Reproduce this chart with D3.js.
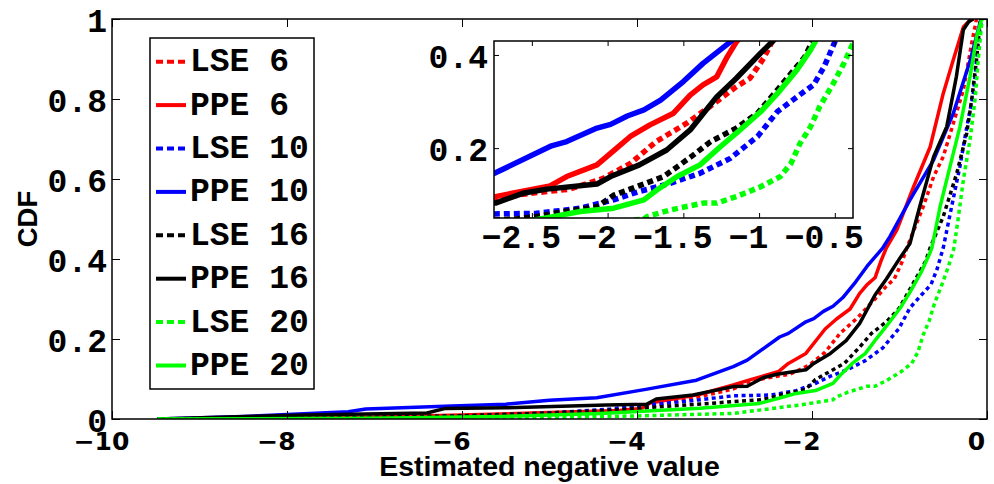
<!DOCTYPE html>
<html>
<head>
<meta charset="utf-8">
<script src="https://cdn.jsdelivr.net/npm/d3@7"></script>
<style>
  body { margin: 0; background: #fff; }
  svg { display: block; }
</style>
</head>
<body>
<svg id="chart" width="994" height="484"></svg>
<script>
// Empirical CDFs of the estimated negative value, [value, cdf] pairs per estimator
const lse6 = [[-9.48,0],[-8.0,0.001],[-7.0,0.003],[-6.0,0.008],[-5.0,0.015],[-4.3,0.022],[-3.9,0.03],[-3.28,0.056],[-2.9,0.075],[-2.74,0.092],[-2.51,0.103],[-2.25,0.112],[-2.03,0.135],[-1.85,0.167],[-1.68,0.214],[-1.48,0.253],[-1.28,0.300],[-1.15,0.332],[-1.06,0.350],[-0.97,0.393],[-0.92,0.425],[-0.88,0.448],[-0.73,0.530],[-0.61,0.606],[-0.50,0.656],[-0.385,0.739],[-0.27,0.823],[-0.175,0.939],[-0.12,1.0]];
const ppe6 = [[-9.48,0],[-8.0,0.002],[-7.0,0.005],[-6.0,0.01],[-5.0,0.016],[-4.2,0.021],[-3.95,0.026],[-3.85,0.04],[-3.28,0.062],[-2.9,0.085],[-2.74,0.096],[-2.38,0.119],[-2.27,0.139],[-2.07,0.164],[-1.94,0.200],[-1.85,0.225],[-1.72,0.250],[-1.565,0.275],[-1.455,0.314],[-1.37,0.336],[-1.28,0.353],[-1.21,0.396],[-1.15,0.428],[-1.03,0.473],[-0.84,0.580],[-0.65,0.680],[-0.50,0.814],[-0.385,0.898],[-0.27,0.980],[-0.19,0.998],[-0.15,1.0]];
const lse10 = [[-9.48,0],[-7.5,0.002],[-6.0,0.007],[-5.0,0.015],[-4.3,0.025],[-3.9,0.035],[-3.4,0.045],[-2.9,0.058],[-2.47,0.060],[-2.18,0.071],[-1.96,0.089],[-1.79,0.107],[-1.59,0.124],[-1.39,0.146],[-1.19,0.178],[-1.01,0.225],[-0.88,0.278],[-0.75,0.310],[-0.64,0.336],[-0.57,0.375],[-0.50,0.428],[-0.42,0.514],[-0.31,0.631],[-0.23,0.731],[-0.156,0.814],[-0.10,0.939],[-0.06,1.0]];
const ppe10 = [[-9.48,0],[-8.5,0.006],[-8.0,0.011],[-7.3,0.018],[-7.1,0.025],[-6.2,0.032],[-5.5,0.037],[-5.0,0.047],[-4.46,0.053],[-3.9,0.074],[-3.32,0.097],[-2.9,0.131],[-2.74,0.147],[-2.37,0.205],[-2.27,0.214],[-2.07,0.243],[-1.98,0.251],[-1.87,0.269],[-1.76,0.282],[-1.65,0.303],[-1.50,0.343],[-1.37,0.382],[-1.19,0.428],[-1.11,0.456],[-0.88,0.548],[-0.61,0.648],[-0.385,0.764],[-0.19,0.898],[-0.08,0.99],[-0.07,1.0]];
const lse16 = [[-9.48,0],[-7.5,0.003],[-6.0,0.008],[-5.0,0.015],[-4.3,0.022],[-3.9,0.028],[-3.43,0.035],[-2.6,0.048],[-2.47,0.053],[-2.29,0.064],[-2.07,0.074],[-1.96,0.099],[-1.81,0.117],[-1.63,0.139],[-1.455,0.180],[-1.32,0.214],[-1.15,0.243],[-1.01,0.275],[-0.88,0.325],[-0.79,0.360],[-0.70,0.395],[-0.65,0.428],[-0.50,0.506],[-0.346,0.614],[-0.232,0.714],[-0.175,0.798],[-0.12,0.898],[-0.08,0.989],[-0.07,1.0]];
const ppe16 = [[-9.48,0],[-7.8,0.010],[-6.4,0.015],[-6.2,0.026],[-5.5,0.028],[-4.35,0.035],[-3.89,0.037],[-3.78,0.050],[-3.36,0.060],[-2.9,0.081],[-2.74,0.082],[-2.56,0.103],[-2.40,0.112],[-2.07,0.123],[-1.98,0.139],[-1.79,0.164],[-1.61,0.196],[-1.455,0.239],[-1.28,0.310],[-1.15,0.350],[-0.99,0.404],[-0.88,0.439],[-0.77,0.530],[-0.61,0.656],[-0.46,0.731],[-0.35,0.856],[-0.27,0.973],[-0.21,0.993],[-0.16,1.0]];
const lse20 = [[-9.48,0],[-7.0,0.001],[-5.57,0.002],[-4.04,0.0075],[-2.9,0.014],[-2.14,0.035],[-1.76,0.048],[-1.74,0.053],[-1.59,0.067],[-1.37,0.082],[-1.28,0.082],[-1.15,0.096],[-0.99,0.117],[-0.86,0.139],[-0.79,0.167],[-0.73,0.210],[-0.66,0.246],[-0.60,0.289],[-0.51,0.339],[-0.44,0.382],[-0.38,0.425],[-0.33,0.500],[-0.27,0.598],[-0.194,0.698],[-0.137,0.798],[-0.10,0.898],[-0.06,0.990],[-0.05,1.0]];
const ppe20 = [[-9.48,0],[-7.0,0.002],[-5.57,0.006],[-4.42,0.014],[-3.28,0.027],[-2.6,0.039],[-2.36,0.053],[-2.18,0.064],[-1.96,0.071],[-1.76,0.089],[-1.675,0.110],[-1.54,0.139],[-1.39,0.164],[-1.256,0.203],[-1.15,0.232],[-0.99,0.278],[-0.88,0.317],[-0.75,0.368],[-0.66,0.411],[-0.63,0.428],[-0.537,0.530],[-0.423,0.631],[-0.309,0.731],[-0.194,0.856],[-0.118,0.956],[-0.06,1.0]];

const seriesNames = ["LSE 6", "PPE 6", "LSE 10", "PPE 10", "LSE 16", "PPE 16", "LSE 20", "PPE 20"];
const seriesData = [lse6, ppe6, lse10, ppe10, lse16, ppe16, lse20, ppe20];

const mainXTicks = [-10, -8, -6, -4, -2, 0];
const mainYTicks = [0, 0.2, 0.4, 0.6, 0.8, 1];
const insetXTicks = [-2.5, -2, -1.5, -1, -0.5];
const insetYTicks = [0.2, 0.4];

// styling
const colorOf = { "6": "#ff0000", "10": "#0000ff", "16": "#000000", "20": "#00ff00" };
const isDotted = name => name.startsWith("LSE");
const monoFont = "'Liberation Mono', 'Courier New', monospace";
const sansFont = "'Liberation Sans', Arial, sans-serif";
const wideSans = "'DejaVu Sans', Verdana, sans-serif";
const fmtMinus = v => String(v).replace("-", "\u2212");

const svg = d3.select("#chart");
const series = seriesNames.map((name, i) => ({ name, values: seriesData[i], color: colorOf[name.split(" ")[1]], dotted: isDotted(name) }));

// ---------- main axes ----------
const M = { left: 112, right: 987, top: 19, bottom: 419 };
const x = d3.scaleLinear().domain([-10, 0]).range([M.left, M.right]);
const y = d3.scaleLinear().domain([0, 1]).range([M.bottom, M.top]);

svg.append("clipPath").attr("id", "clipMain")
  .append("rect").attr("x", M.left).attr("y", M.top).attr("width", M.right - M.left).attr("height", M.bottom - M.top);

const lineMain = d3.line().x(d => x(d[0])).y(d => y(d[1]));
svg.append("g").attr("clip-path", "url(#clipMain)")
  .selectAll("path").data(series).join("path")
  .attr("d", d => lineMain(d.values))
  .attr("fill", "none")
  .attr("stroke", d => d.color)
  .attr("stroke-width", 3.5)
  .attr("stroke-linejoin", "round")
  .attr("stroke-dasharray", d => d.dotted ? "4,3.5" : null);

function tickOnly(g) { g.select(".domain").remove(); g.selectAll("line").attr("stroke", "#000").attr("stroke-width", 1); }

// bottom axis (ticks point inward)
const gxB = svg.append("g").attr("transform", `translate(0,${M.bottom})`)
  .call(d3.axisBottom(x).tickValues(mainXTicks).tickSize(-8).tickFormat(fmtMinus));
tickOnly(gxB);
gxB.selectAll("text")
  .attr("y", 31).attr("dy", 0).attr("dx", -11)
  .attr("font-family", wideSans).attr("font-weight", "bold").attr("font-size", 25).attr("fill", "#000");
const gxT = svg.append("g").attr("transform", `translate(0,${M.top})`)
  .call(d3.axisTop(x).tickValues(mainXTicks).tickSize(-8).tickFormat(""));
tickOnly(gxT);

const gyL = svg.append("g").attr("transform", `translate(${M.left},0)`)
  .call(d3.axisLeft(y).tickValues(mainYTicks).tickSize(-8).tickFormat(d => String(d)));
tickOnly(gyL);
gyL.selectAll("text")
  .attr("x", -5).attr("dy", "0.38em")
  .attr("font-family", monoFont).attr("font-weight", "bold").attr("font-size", 33).attr("fill", "#000");
const gyR = svg.append("g").attr("transform", `translate(${M.right},0)`)
  .call(d3.axisRight(y).tickValues(mainYTicks).tickSize(-8).tickFormat(""));
tickOnly(gyR);

svg.append("rect").attr("x", M.left).attr("y", M.top)
  .attr("width", M.right - M.left).attr("height", M.bottom - M.top)
  .attr("fill", "none").attr("stroke", "#000").attr("stroke-width", 1.5);

// axis titles
svg.append("text").attr("x", (M.left + M.right) / 2).attr("y", 476)
  .attr("text-anchor", "middle").attr("font-family", sansFont).attr("font-weight", "bold").attr("font-size", 28.5)
  .text("Estimated negative value");
svg.append("text").attr("transform", `translate(36.5,${(M.top + M.bottom) / 2}) rotate(-90)`)
  .attr("text-anchor", "middle").attr("font-family", sansFont).attr("font-weight", "bold").attr("font-size", 27.5)
  .text("CDF");

// ---------- legend ----------
const L = { x: 150, y: 38, w: 164, h: 351, row0: 61.7, step: 43.4 };
svg.append("rect").attr("x", L.x).attr("y", L.y).attr("width", L.w).attr("height", L.h)
  .attr("fill", "#fff").attr("stroke", "#000").attr("stroke-width", 1.5);
const leg = svg.append("g").selectAll("g").data(series).join("g")
  .attr("transform", (d, i) => `translate(0,${L.row0 + i * L.step})`);
leg.append("line").attr("x1", 156).attr("x2", 186).attr("y1", 0).attr("y2", 0)
  .attr("stroke", d => d.color).attr("stroke-width", 4)
  .attr("stroke-dasharray", d => d.dotted ? "7,4" : null);
leg.append("text").attr("x", 190).attr("y", 9.5)
  .attr("font-family", monoFont).attr("font-weight", "bold").attr("font-size", 33)
  .style("white-space", "pre").attr("xml:space", "preserve")
  .text(d => d.name);

// ---------- inset ----------
const I = { left: 494, right: 853, top: 41, bottom: 218 };
const xi = d3.scaleLinear().domain([-2.75, -0.38]).range([I.left, I.right]);
const yi = d3.scaleLinear().domain([0.05, 0.43]).range([I.bottom, I.top]);

svg.append("rect").attr("x", I.left).attr("y", I.top).attr("width", I.right - I.left).attr("height", I.bottom - I.top)
  .attr("fill", "#fff");
svg.append("clipPath").attr("id", "clipInset")
  .append("rect").attr("x", I.left).attr("y", I.top).attr("width", I.right - I.left).attr("height", I.bottom - I.top);

const lineInset = d3.line().x(d => xi(d[0])).y(d => yi(d[1]));
svg.append("g").attr("clip-path", "url(#clipInset)")
  .selectAll("path").data(series).join("path")
  .attr("d", d => lineInset(d.values))
  .attr("fill", "none")
  .attr("stroke", d => d.color)
  .attr("stroke-width", 5.5)
  .attr("stroke-linejoin", "round")
  .attr("stroke-dasharray", d => d.dotted ? "6,4" : null);

const gixB = svg.append("g").attr("transform", `translate(0,${I.bottom})`)
  .call(d3.axisBottom(xi).tickValues(insetXTicks).tickSize(-5).tickFormat(fmtMinus));
tickOnly(gixB);
gixB.selectAll("text")
  .attr("y", 30).attr("dy", 0).attr("dx", -11)
  .attr("font-family", monoFont).attr("font-weight", "bold").attr("font-size", 33).attr("fill", "#000");
const gixT = svg.append("g").attr("transform", `translate(0,${I.top})`)
  .call(d3.axisTop(xi).tickValues(insetXTicks).tickSize(-5).tickFormat(""));
tickOnly(gixT);
const giyL = svg.append("g").attr("transform", `translate(${I.left},0)`)
  .call(d3.axisLeft(yi).tickValues(insetYTicks).tickSize(-5).tickFormat(d => String(d)));
tickOnly(giyL);
giyL.selectAll("text")
  .attr("x", -6).attr("dy", "0.38em")
  .attr("font-family", monoFont).attr("font-weight", "bold").attr("font-size", 33).attr("fill", "#000");
const giyR = svg.append("g").attr("transform", `translate(${I.right},0)`)
  .call(d3.axisRight(yi).tickValues(insetYTicks).tickSize(-5).tickFormat(""));
tickOnly(giyR);

svg.append("rect").attr("x", I.left).attr("y", I.top).attr("width", I.right - I.left).attr("height", I.bottom - I.top)
  .attr("fill", "none").attr("stroke", "#000").attr("stroke-width", 1.5);
</script>
</body>
</html>
